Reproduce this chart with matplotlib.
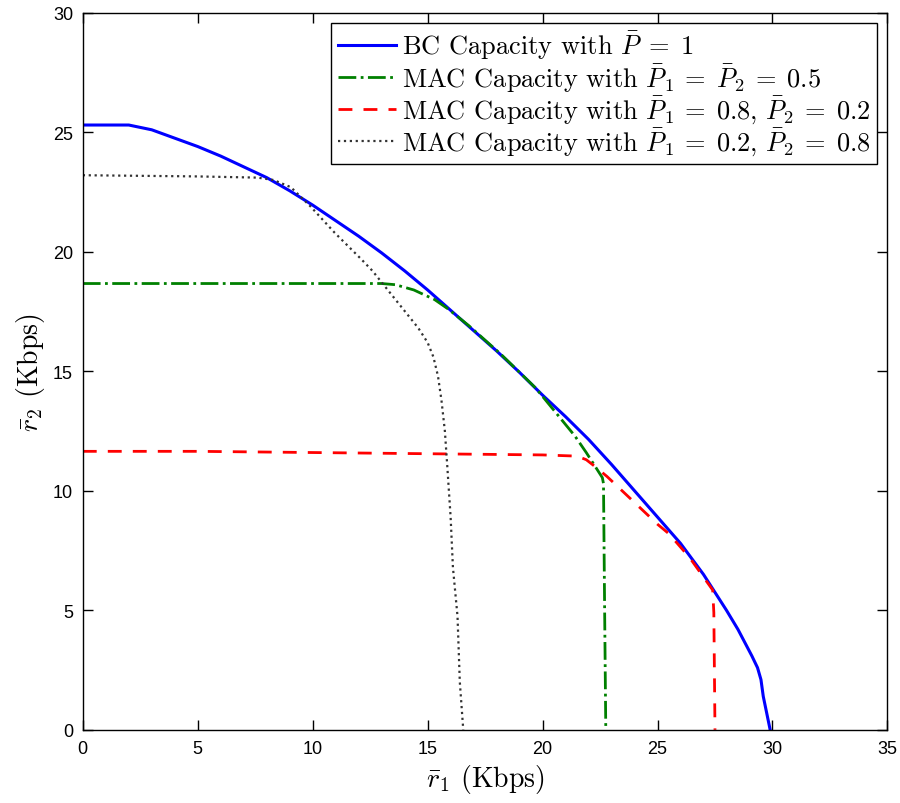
import matplotlib
matplotlib.use("Agg")
import matplotlib.pyplot as plt

plt.rcParams['mathtext.fontset'] = 'cm'
plt.rcParams['axes.unicode_minus'] = False

# BC capacity curve
bc_r1 = [0, 2.0, 3, 4, 5, 6, 7, 8, 9, 10, 11, 12, 13, 14, 15, 16, 17, 18, 19, 20,
         21, 22, 23, 24, 25, 25.5, 26, 26.5, 27, 27.4, 28, 28.5, 29.1, 29.35, 29.5, 29.6, 29.9]
bc_r2 = [25.3, 25.3, 25.1, 24.75, 24.4, 24.0, 23.55, 23.1, 22.55, 21.95, 21.3, 20.65,
         19.95, 19.2, 18.4, 17.55, 16.7, 15.85, 14.95, 14.0, 13.1, 12.15, 11.1, 10.0,
         8.9, 8.35, 7.8, 7.15, 6.5, 5.9, 5.0, 4.2, 3.1, 2.6, 2.1, 1.4, 0]

# MAC, P1 = P2 = 0.5
mac1_r1 = [0, 13.0, 13.6, 14.4, 15.3, 15.9, 16.8, 18.2, 19.7, 20.55, 21.4, 21.9,
           22.3, 22.6, 22.65, 22.7, 22.75]
mac1_r2 = [18.67, 18.67, 18.62, 18.4, 18.0, 17.6, 16.9, 15.7, 14.3, 13.3, 12.3, 11.6,
           11.0, 10.55, 10.3, 5.0, 0]

# MAC, P1 = 0.8, P2 = 0.2
mac2_r1 = [0, 5, 10, 15, 20, 21.5, 21.9, 22.3, 22.8, 23.9, 25.0, 25.5, 26.4, 27.4, 27.45, 27.5]
mac2_r2 = [11.65, 11.65, 11.6, 11.55, 11.5, 11.45, 11.3, 11.0, 10.6, 9.6, 8.6, 8.2, 7.2,
           5.85, 4.9, 0]

# MAC, P1 = 0.2, P2 = 0.8
mac3_r1 = [0, 5, 7.6, 8.3, 9.05, 9.9, 10.95, 12.1, 12.6, 13.1, 13.6, 14.1, 14.6, 15.0,
           15.25, 15.45, 15.6, 15.75, 15.85, 16.0, 16.1, 16.3, 16.4, 16.55]
mac3_r2 = [23.2, 23.15, 23.1, 23.0, 22.7, 21.9, 20.8, 19.7, 19.2, 18.6, 18.0, 17.4, 16.8,
           16.2, 15.6, 14.8, 13.8, 12.5, 11.1, 8.9, 6.8, 4.75, 2.0, 0]

labels = [r'BC Capacity with $\bar{P}\;=\;1$',
          r'MAC Capacity with $\bar{P}_1\:=\;\bar{P}_2\:=\;0.5$',
          r'MAC Capacity with $\bar{P}_1\:=\;0.8,\,\bar{P}_2\:=\;0.2$',
          r'MAC Capacity with $\bar{P}_1\:=\;0.2,\,\bar{P}_2\:=\;0.8$']

fig = plt.figure(figsize=(9, 8.04), dpi=100)
ax = fig.add_axes([0.092, 0.091, 0.894, 0.892])

ax.plot(bc_r1, bc_r2, color='#0000ff', lw=2.2, label=labels[0])
ax.plot(mac1_r1, mac1_r2, color='#008000', lw=2, ls='-.', label=labels[1])
ax.plot(mac2_r1, mac2_r2, color='#ff0000', lw=2, ls='--', dashes=(5, 4), label=labels[2])
ax.plot(mac3_r1, mac3_r2, color='#333333', lw=1.6, ls=':', label=labels[3])

ax.set_xlim(0, 35)
ax.set_ylim(0, 30)
ax.set_xticks(range(0, 36, 5))
ax.set_yticks(range(0, 31, 5))
ax.tick_params(direction='in', top=True, right=True, length=7, width=1,
               labelsize=13, pad=7)
for lab in ax.get_xticklabels() + ax.get_yticklabels():
    lab.set_family('Liberation Sans')
for s in ax.spines.values():
    s.set_linewidth(1)

ax.set_xlabel(r'$\bar{r}_1$ (Kbps)', family='cmr10', fontsize=20, labelpad=4)
ax.set_ylabel(r'$\bar{r}_2$ (Kbps)', family='cmr10', fontsize=20, labelpad=4)

leg = ax.legend(loc='upper right', prop={'family': 'cmr10', 'size': 19},
                fancybox=False, edgecolor='black', framealpha=1,
                handlelength=2.2, handletextpad=0.23, labelspacing=0.0,
                borderpad=0.25, borderaxespad=0.38)
leg.get_frame().set_linewidth(1)

fig.savefig('out.png', dpi=100)
